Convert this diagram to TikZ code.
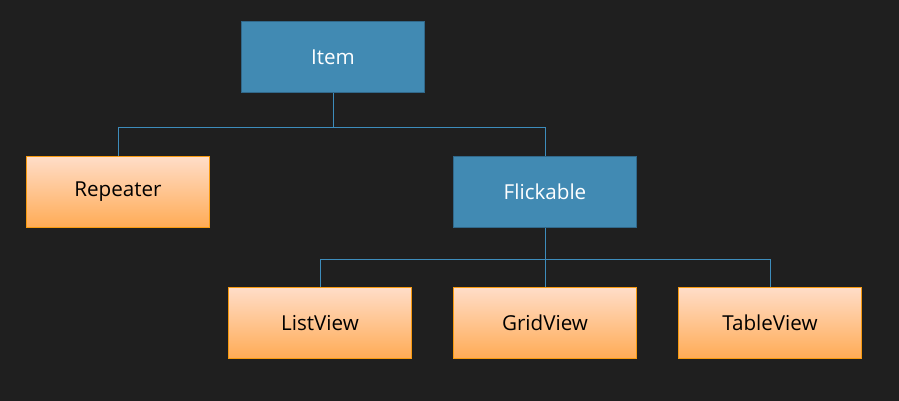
\documentclass[tikz,border=0pt]{standalone}
\usepackage{fontspec}
\setmainfont{Open Sans}
\usetikzlibrary{positioning}
\definecolor{bgdark}{HTML}{1F1F1F}
\definecolor{boxblue}{HTML}{418AB3}
\definecolor{boxblueline}{HTML}{31688A}
\definecolor{linkblue}{HTML}{3D8CBC}
\definecolor{orangetop}{HTML}{FFDDC8}
\definecolor{orangebot}{HTML}{FFAB55}
\definecolor{orangeline}{HTML}{F79A10}

\tikzset{
	base/.style={rectangle, minimum width=183pt, minimum height=71pt, inner sep=0pt,
		font=\fontsize{20.6}{24}\selectfont},
	parent/.style={base, fill=boxblue, draw=boxblueline, line width=1.5pt, text=white},
	leaf/.style={base, top color=orangetop, bottom color=orangebot, draw=orangeline, line width=1pt, text=black},
	link/.style={draw=linkblue, line width=0.9pt}
}

\begin{document}
\begin{tikzpicture}[x=1pt,y=-1pt]
			\fill[bgdark] (0,0) rectangle (899,401);
			\useasboundingbox (0,0) rectangle (899,401);

			\node[parent] (item) at (333,57) {Item};
			\node[leaf] (repeater) at (118,192) {Repeater};
			\node[parent] (flickable) at (545,192) {Flickable};
			\node[leaf] (listview) at (320,323) {ListView};
			\node[leaf] (gridview) at (545,323) {GridView};
			\node[leaf] (tableview) at (770,323) {TableView};

			\draw[link] (item.south) -- ++(0,34) -| (repeater.north);
			\draw[link] (item.south) -- ++(0,34) -| (flickable.north);
			\draw[link] (flickable.south) -- ++(0,31) -| (listview.north);
			\draw[link] (flickable.south) -- (gridview.north);
			\draw[link] (flickable.south) -- ++(0,31) -| (tableview.north);
		\end{tikzpicture}
\end{document}
